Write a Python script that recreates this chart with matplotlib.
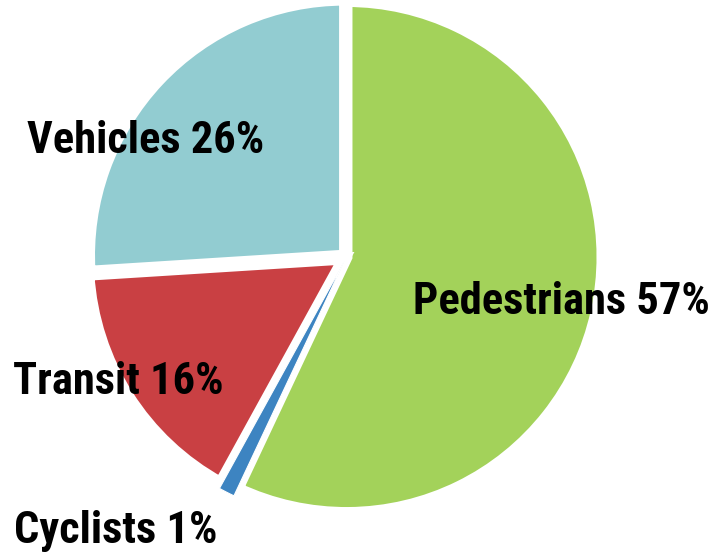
import matplotlib
matplotlib.use("Agg")
import matplotlib.pyplot as plt

categories = ["Pedestrians", "Cyclists", "Transit", "Vehicles"]
shares = [57, 1, 16, 26]
colors = ["#a3d25a", "#3d84c1", "#c94043", "#92ccd1"]
explode = [0, 5, 3, 2]  # pixels, pie is drawn in pixel units

# label left edge and baseline, image pixels (y down)
label_pos = [(413, 314), (14, 543), (13, 394), (27, 153)]

W, H = 717, 554
fig = plt.figure(figsize=(W / 100, H / 100), dpi=100)
ax = fig.add_axes([0, 0, 1, 1])

wedges, _ = ax.pie(shares, colors=colors, explode=explode, startangle=90,
                   counterclock=False, radius=256, center=(346.5, H - 257),
                   wedgeprops=dict(edgecolor="white", linewidth=8.6))
# the thin cyclists slice sits on top of its neighbours' white borders
wedges[1].set_linewidth(0.8)
wedges[1].set_radius(259)
wedges[1].set_zorder(5)

ax.set_xlim(0, W)
ax.set_ylim(0, H)
ax.set_aspect("equal")
ax.axis("off")

for name, val, (x, y) in zip(categories, shares, label_pos):
    ax.text(x, H - y, f"{name} {val}%", ha="left", va="baseline",
            fontsize=32, fontweight="bold",
            family=["Roboto Condensed", "DejaVu Sans"], zorder=6)

fig.savefig("out.png", dpi=100)
